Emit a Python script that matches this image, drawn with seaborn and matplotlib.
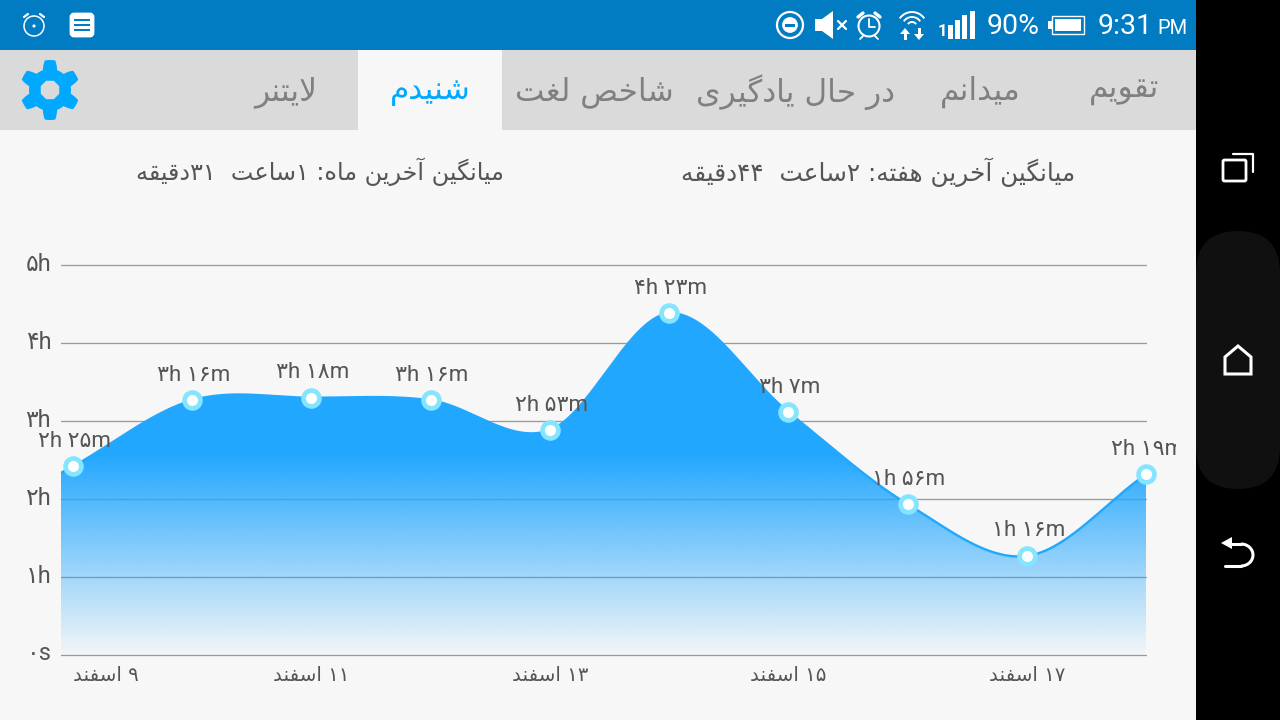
import unicodedata
import matplotlib
matplotlib.use("Agg")
import matplotlib.pyplot as plt
import matplotlib.patches as mpatches
from matplotlib.transforms import Bbox, ScaledTranslation
import numpy as np
import pandas as pd
import seaborn as sns

# data
day_index = [0, 1, 2, 3, 4, 5, 6, 7, 8, 9]
minutes = [145, 196, 198, 196, 173, 263, 187, 116, 76, 139]
date_ticks = [0, 2, 4, 6, 8]
date_labels = ["۹ اسفند", "۱۱ اسفند", "۱۳ اسفند", "۱۵ اسفند", "۱۷ اسفند"]
hour_ticks = [0, 1, 2, 3, 4, 5]
hour_labels = ["۰s", "۱h", "۲h", "۳h", "۴h", "۵h"]
tab_names = ["تقویم", "میدانم", "در حال یادگیری", "شاخص لغت", "شنیدم", "لایتنر"]
week_avg = "میانگین آخرین هفته: ۲ساعت  ۴۴دقیقه"
month_avg = "میانگین آخرین ماه: ۱ساعت  ۳۱دقیقه"

BG = "#f7f7f7"
BLUE = "#22a7ff"
TEXT = "#555555"
FONT = ["Roboto", "DejaVu Sans"]
ARABIC = ["DejaVu Sans"]
RIGHT_JOIN = set("اآدذرزژو") | {"\ufefb"}
PERSIAN_DIGITS = "۰۱۲۳۴۵۶۷۸۹"


def form(ch, kind):
    if ch == "\ufefb":
        return "\ufefc" if kind == "FINAL" else ch
    return unicodedata.lookup(unicodedata.name(ch) + " " + kind + " FORM")


def is_letter(ch):
    return ch == "\ufefb" or unicodedata.name(ch, "").startswith("ARABIC LETTER")


# matplotlib has no arabic shaping or bidi, so do both by hand
def rtl(text):
    text = text.replace("لا", "\ufefb")
    out = []
    for i, ch in enumerate(text):
        if not is_letter(ch):
            out.append(ch)
            continue
        prev = text[i - 1] if i > 0 else " "
        nxt = text[i + 1] if i < len(text) - 1 else " "
        before = is_letter(prev) and prev not in RIGHT_JOIN
        after = is_letter(nxt) and ch not in RIGHT_JOIN
        kind = {(0, 0): "ISOLATED", (1, 0): "FINAL", (0, 1): "INITIAL", (1, 1): "MEDIAL"}[(before, after)]
        out.append(form(ch, kind))
    visual = []
    run = ""
    for ch in reversed(out):
        if ch in PERSIAN_DIGITS:
            run = ch + run
        else:
            visual.append(run)
            run = ""
            visual.append(ch)
    visual.append(run)
    return "".join(visual)


def persian(n):
    return "".join(PERSIAN_DIGITS[int(c)] for c in str(n))


# catmull-rom style curve through the values, same look as the app's chart
def smooth_curve(x, y, xs):
    x = np.array(x, float)
    y = np.array(y, float)
    slope = np.gradient(y, x)
    j = np.clip(np.searchsorted(x, xs) - 1, 0, len(x) - 2)
    h = x[j + 1] - x[j]
    t = (xs - x[j]) / h
    return ((2 * t**3 - 3 * t**2 + 1) * y[j] + (t**3 - 2 * t**2 + t) * h * slope[j]
            + (-2 * t**3 + 3 * t**2) * y[j + 1] + (t**3 - t**2) * h * slope[j + 1])


sns.set_theme(style="whitegrid", rc={"figure.facecolor": BG, "grid.color": "#9a9a9a", "grid.linewidth": 0.95})
plt.rcParams["font.family"] = FONT

fig = plt.figure(figsize=(12.8, 7.2), dpi=100)

# screen furniture, in pixel coordinates
chrome = fig.add_axes([0, 0, 1, 1], zorder=0)
chrome.set_xlim(0, 1280)
chrome.set_ylim(720, 0)
chrome.axis("off")


def rect(x, y, w, h, color, **kw):
    chrome.add_patch(mpatches.Rectangle((x, y), w, h, facecolor=color, edgecolor="none", **kw))


def ring(x, y, r, lw=1.6, fc="none", ec="white"):
    chrome.add_patch(mpatches.Circle((x, y), r, facecolor=fc, edgecolor=ec, linewidth=lw))


rect(0, 0, 1196, 50, "#017bc2")
rect(0, 50, 1196, 80, "#dadada")
rect(358, 50, 144, 80, BG)
rect(1196, 0, 84, 720, "black")
chrome.add_patch(mpatches.FancyBboxPatch((1196, 231), 84, 258, boxstyle="round,pad=0,rounding_size=42", facecolor="#101010", edgecolor="none"))

# status bar icons
ring(34, 26, 10, 1.1)
ring(34, 26, 1.2, 0.5, "white")
chrome.plot([24, 28], [17, 14], color="white", lw=1.6)
chrome.plot([44, 40], [17, 14], color="white", lw=1.6)
chrome.add_patch(mpatches.FancyBboxPatch((71, 14), 22, 22, boxstyle="round,pad=0,rounding_size=3", facecolor="white", edgecolor="white", linewidth=2))
for ly in [20, 25, 30]:
    rect(74, ly - 1, 16, 2, "#017bc2")

ring(790, 25, 13, 1.6)
ring(790, 25, 7.5, 0.5, "white")
rect(785, 24, 10, 2.5, "#017bc2")
chrome.add_patch(mpatches.Polygon([(815, 19), (822, 19), (833, 11), (833, 39), (822, 31), (815, 31)], facecolor="white", edgecolor="none"))
chrome.plot([838, 846], [21, 29], color="white", lw=1.6)
chrome.plot([846, 838], [21, 29], color="white", lw=1.6)
ring(869, 26, 10.5, 1.5)
chrome.plot([869, 869, 875], [19, 27, 27], color="white", lw=1.3)
chrome.plot([858, 863], [17, 13], color="white", lw=2.4)
chrome.plot([880, 875], [17, 13], color="white", lw=2.4)
chrome.plot([863, 860], [36, 39], color="white", lw=1.3)
chrome.plot([875, 878], [36, 39], color="white", lw=1.3)
for wr in [5, 10, 15]:
    chrome.add_patch(mpatches.Arc((912, 27), 2 * wr, 2 * wr, theta1=215, theta2=325, color="white", lw=1.4))
chrome.add_patch(mpatches.Polygon([(900, 34), (905, 28), (910, 34)], facecolor="white", edgecolor="none"))
rect(903.5, 34, 3, 6, "white")
chrome.add_patch(mpatches.Polygon([(914, 34), (919, 40), (924, 34)], facecolor="white", edgecolor="none"))
rect(917.5, 28, 3, 6, "white")
chrome.text(942, 31, "1", color="white", fontsize=12, fontweight="bold", ha="center", va="center")
for bx, bh in zip([948, 955, 962, 970], [14, 19, 24, 28]):
    rect(bx, 39 - bh, 5, bh, "white")
chrome.text(1013, 26, "90%", color="white", fontsize=20.5, ha="center", va="center")
chrome.add_patch(mpatches.Rectangle((1052, 16), 32, 18, facecolor="none", edgecolor="white", linewidth=1))
rect(1048, 21, 4, 8, "white")
rect(1055, 19, 26, 12, "white")
chrome.text(1098, 26, "9:31", color="white", fontsize=20.5, ha="left", va="center")
chrome.text(1157, 29, "PM", color="white", fontsize=14.5, ha="left", va="center")

# nav bar icons
chrome.add_patch(mpatches.FancyBboxPatch((1223, 160), 23, 21, boxstyle="round,pad=0,rounding_size=1.5", facecolor="none", edgecolor="white", linewidth=2))
chrome.plot([1233, 1253, 1253], [154, 154, 172], color="white", lw=1.6)
chrome.add_patch(mpatches.Polygon([(1225, 374), (1225, 357), (1238, 346), (1251, 357), (1251, 374)], facecolor="none", edgecolor="white", linewidth=2.2))
chrome.add_patch(mpatches.Arc((1241, 555), 24, 22, theta1=-90, theta2=90, color="white", lw=2.2))
chrome.plot([1232, 1241], [544, 544], color="white", lw=2.2)
chrome.plot([1225, 1241], [566, 566], color="white", lw=2.2)
chrome.add_patch(mpatches.Polygon([(1221, 543), (1232, 537), (1232, 549)], facecolor="white", edgecolor="none"))

# settings gear
gear_angle = np.deg2rad(np.arange(0, 360, 1))
gear_r = 25.5 + 4.5 * np.clip(2 * np.cos(6 * (gear_angle + np.pi / 2)), -1, 1)
chrome.add_patch(mpatches.Polygon(np.column_stack([50 + gear_r * np.cos(gear_angle), 90 + gear_r * np.sin(gear_angle)]), facecolor="#00a9ff", edgecolor="none"))
chrome.add_patch(mpatches.RegularPolygon((50, 90), 8, radius=10, orientation=np.pi / 8, facecolor="#dadada", edgecolor="none"))

for name, cx in zip(tab_names, [1124, 980, 796, 594, 430, 286]):
    active = name == "شنیدم"
    chrome.text(cx, 92, rtl(name), color="#00a9ff" if active else "#808080", family=ARABIC, fontsize=22.5, ha="center", va="center")
chrome.text(878, 172, rtl(week_avg), color=TEXT, family=ARABIC, fontsize=17.8, ha="center", va="center")
chrome.text(320, 172, rtl(month_avg), color=TEXT, family=ARABIC, fontsize=17.2, ha="center", va="center")

# chart itself
ax = fig.add_axes([61 / 1280, 1 - 654.5 / 720, (1146 - 61) / 1280, (654.5 - 265.5) / 720], zorder=1)
ax.patch.set_visible(False)

hours = np.array(minutes) / 60
x_fine = np.linspace(-0.1, 9, 500)
df_curve = pd.DataFrame({"day": x_fine, "hours": smooth_curve(day_index, hours, x_fine)})
df_points = pd.DataFrame({"day": day_index, "hours": hours, "minutes": minutes})

# opaque down to about 2.56h then fading out towards zero
area = ax.fill_between(df_curve["day"], df_curve["hours"], 0, alpha=0, linewidth=0)
alpha = np.clip(0.02 + 0.98 * np.linspace(5, 0, 500) / 2.56, 0, 1)
gradient = np.ones((500, 1, 4))
gradient[:, :, :3] = matplotlib.colors.to_rgb(BLUE)
gradient[:, 0, 3] = alpha
im = ax.imshow(gradient, extent=(-0.1, 9, 0, 5), aspect="auto", zorder=2)
im.set_clip_path(area.get_paths()[0], transform=ax.transData)

sns.lineplot(data=df_curve, x="day", y="hours", color=BLUE, linewidth=1.7, ax=ax, zorder=3, errorbar=None)
sns.scatterplot(data=df_points, x="day", y="hours", s=130, color="white", edgecolor="#85e5ff", linewidth=3.4, ax=ax, zorder=4, clip_on=False)

ax.set_xlim(-0.1, 9)
ax.set_ylim(0, 5)
ax.set_xlabel("")
ax.set_ylabel("")
ax.grid(False, axis="x")
ax.grid(True, axis="y")
ax.set_axisbelow(True)
for spine in ax.spines.values():
    spine.set_visible(False)
ax.set_xticks(date_ticks)
ax.set_xticklabels([rtl(d) for d in date_labels], family=ARABIC, fontsize=14.2, color=TEXT)
ax.get_xticklabels()[0].set_ha("left")
ax.set_yticks(hour_ticks)
ax.set_yticklabels(hour_labels, fontsize=17, color=TEXT)
ax.tick_params(axis="both", length=0)
ax.tick_params(axis="x", pad=8)
ax.tick_params(axis="y", pad=7)
for line in ax.get_ygridlines():
    line.set_clip_on(False)
for lab in ax.get_yticklabels():
    lab.set_transform(lab.get_transform() + ScaledTranslation(0, 3 / 100, fig.dpi_scale_trans))

clip_box = Bbox([[0, 0], [1176, 720]])
for d, h, m in zip(day_index, hours, minutes):
    label = f"{persian(m // 60)}h {persian(m % 60)}m"
    t = ax.annotate(label, (d, h), xytext=(1, 18), textcoords="offset points", ha="center", va="center",
                    fontsize=16, color=TEXT, annotation_clip=False, zorder=5)
    t.set_clip_on(True)
    t.set_clip_box(clip_box)

fig.savefig("out.png", dpi=100, facecolor=BG)
